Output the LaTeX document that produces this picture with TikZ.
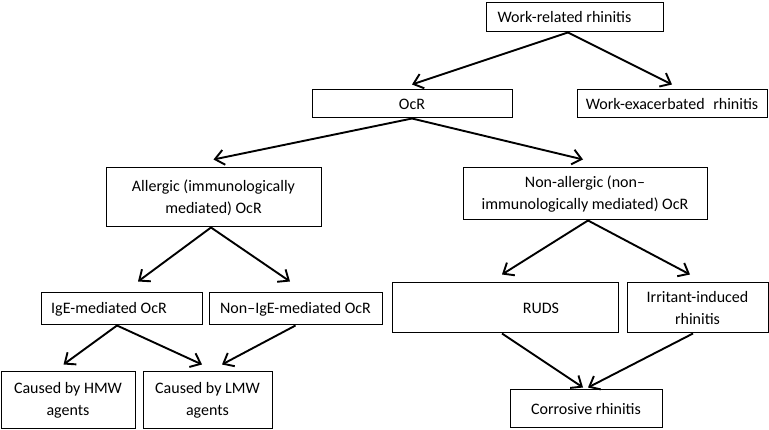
\documentclass[tikz,border=0pt]{standalone}
\usepackage{fontspec}
\setmainfont{Carlito}
\usepackage{tikz}
\usetikzlibrary{arrows.meta}

\begin{document}
\begin{tikzpicture}[x=1pt,y=-1pt,
    caja/.style={draw,line width=1pt,inner sep=0pt,align=center,
      font=\fontsize{16}{22}\selectfont},
    flecha/.style={draw,line width=1.9pt,-{Straight Barb[length=9pt,width=15pt]}}]
  \useasboundingbox (0,0) rectangle (769,430);
  \begin{scope}
    \node[caja,minimum width=177pt,minimum height=29pt] (wrr) at (574.5,17.5) {\hspace*{-20pt}Work-related rhinitis};

    \node[caja,minimum width=200pt,minimum height=28pt] (ocr) at (412,104) {OcR};
    \node[caja,minimum width=190pt,minimum height=28pt] (wer) at (672,104) {Work-exacerbated\hspace{5pt} rhinitis};

    \path[flecha] ([xshift=-6.5pt]wrr.south) -- ([yshift=5pt]ocr.north);
    \path[flecha] ([xshift=-6.5pt]wrr.south) -- ([yshift=5pt]wer.north);

    \node[caja,minimum width=215pt,minimum height=59pt] (alerg) at (213.5,197.5) {Allergic (immunologically\\mediated) OcR};
    \node[caja,minimum width=244pt,minimum height=52pt] (noalerg) at (585,194) {Non-allergic (non--\\immunologically mediated) OcR};

    \path[flecha] (ocr.south) -- ([yshift=8pt]alerg.north);
    \path[flecha] (ocr.south) -- ([xshift=-2pt,yshift=8pt]noalerg.north);

    \node[caja,minimum width=161pt,minimum height=32pt] (ige) at (121.5,309) {\hspace*{-25pt}IgE-mediated OcR};
    \node[caja,minimum width=173pt,minimum height=32pt] (noige) at (295.5,309) {Non--IgE-mediated OcR};
    \node[caja,minimum width=226pt,minimum height=50pt] (ruds) at (505,308) {\hspace*{72pt}RUDS};
    \node[caja,minimum width=141pt,minimum height=50pt] (irrit) at (697.5,308) {Irritant-induced\\rhinitis};

    \path[flecha] ([xshift=-2.5pt]alerg.south) -- ([xshift=16.5pt,yshift=11pt]ige.north);
    \path[flecha] ([xshift=-2.5pt]alerg.south) -- ([xshift=-5.5pt,yshift=11pt]noige.north);
    \path[flecha] ([xshift=3pt]noalerg.south) -- ([xshift=-3pt,yshift=8pt]ruds.north);
    \path[flecha] ([xshift=3pt]noalerg.south) -- ([xshift=-7.5pt,yshift=8pt]irrit.north);

    \node[caja,minimum width=134pt,minimum height=57pt] (hmw) at (68,400.5) {Caused by HMW\\agents};
    \node[caja,minimum width=129pt,minimum height=57pt] (lmw) at (207.5,400.5) {Caused by LMW\\agents};
    \node[caja,minimum width=152pt,minimum height=38pt] (corros) at (586,409) {Corrosive rhinitis};

    \path[flecha] ([xshift=-4.5pt]ige.south) -- ([xshift=-4.5pt,yshift=7pt]hmw.north);
    \path[flecha] ([xshift=-4.5pt]ige.south) -- ([xshift=-5.5pt,yshift=7pt]lmw.north);
    \path[flecha] (noige.south) -- ([xshift=14.5pt,yshift=7pt]lmw.north);
    \path[flecha] ([xshift=-3pt]ruds.south) -- ([xshift=-3pt,yshift=2pt]corros.north);
    \path[flecha] ([xshift=-4.5pt]irrit.south) -- ([xshift=2pt,yshift=2pt]corros.north);
  \end{scope}
\end{tikzpicture}
\end{document}
